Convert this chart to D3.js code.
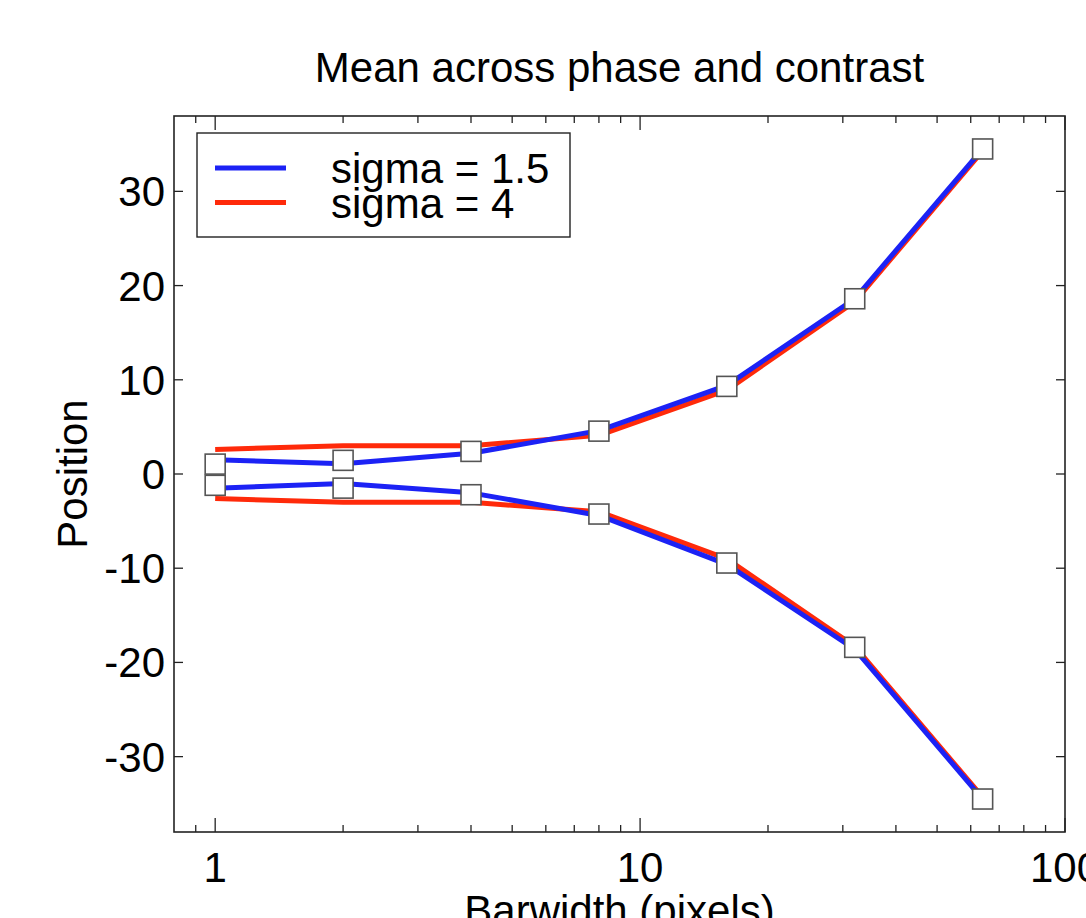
<!DOCTYPE html>
<html>
<head>
<meta charset="utf-8">
<script src="https://cdn.jsdelivr.net/npm/d3@7"></script>
<style>
  body { margin: 0; background: #fff; }
  svg { display: block; font-family: "Liberation Sans", Arial, sans-serif; }
</style>
</head>
<body>
<div id="chart"></div>
<script>
// values
var barwidth = [1, 2, 4, 8, 16, 32, 64];
var sigma15Up = [1.5, 1.1, 2.2, 4.6, 9.4, 18.6, 34.5];
var sigma15Down = [-1.5, -1.0, -2.0, -4.4, -9.6, -18.6, -34.5];
var sigma4Up = [2.6, 3.0, 3.0, 4.1, 8.9, 18.3, 34.3];
var sigma4Down = [-2.6, -3.0, -3.0, -4.0, -9.0, -18.3, -34.3];
var markerUp = [1.05, 1.45, 2.4, 4.55, 9.3, 18.6, 34.5];
var markerDown = [-1.2, -1.5, -2.2, -4.25, -9.45, -18.4, -34.5];

var xMajor = [1, 10, 100];
var xMinor = [0.9, 2, 3, 4, 5, 6, 7, 8, 9, 20, 30, 40, 50, 60, 70, 80, 90];
var yTicks = [-30, -20, -10, 0, 10, 20, 30];
var legendNames = ["sigma = 1.5", "sigma = 4"];
var colors = ["#1c22f5", "#ff2a0a"];

var margin = { top: 116, right: 21, bottom: 86, left: 174 },
    W = 1086, H = 918,
    width = W - margin.left - margin.right,
    height = H - margin.top - margin.bottom;

var svg = d3.select("#chart")
    .append("svg")
    .attr("width", W)
    .attr("height", H);

var g = svg.append("g")
    .attr("transform", "translate(" + margin.left + "," + margin.top + ")");

var x = d3.scaleLog().domain([0.8, 100]).range([0, width]);
var y = d3.scaleLinear().domain([-38, 38]).range([height, 0]);

var fontSize = 42;

// frame
g.append("rect")
    .attr("width", width)
    .attr("height", height)
    .attr("fill", "none")
    .attr("stroke", "#222")
    .attr("stroke-width", 1.6);

// ticks, all pointing inward
function xTicks(sel, top) {
    var all = xMinor.concat(xMajor);
    sel.selectAll(null)
        .data(all)
        .enter()
        .append("line")
        .attr("x1", function (d) { return x(d) })
        .attr("x2", function (d) { return x(d) })
        .attr("y1", top ? 0 : height)
        .attr("y2", function (d) {
            var len = xMajor.indexOf(d) >= 0 ? 14 : 7;
            return top ? len : height - len
        })
        .attr("stroke", "#222")
        .attr("stroke-width", 1.3);
}
xTicks(g, false);
xTicks(g, true);

g.selectAll(".ytl")
    .data(yTicks)
    .enter()
    .append("line")
    .attr("x1", 0).attr("x2", 9)
    .attr("y1", function (d) { return y(d) })
    .attr("y2", function (d) { return y(d) })
    .attr("stroke", "#222")
    .attr("stroke-width", 1.3);

g.selectAll(".ytr")
    .data(yTicks)
    .enter()
    .append("line")
    .attr("x1", width - 9).attr("x2", width)
    .attr("y1", function (d) { return y(d) })
    .attr("y2", function (d) { return y(d) })
    .attr("stroke", "#222")
    .attr("stroke-width", 1.3);

// tick labels
g.selectAll(".xlab")
    .data(xMajor)
    .enter()
    .append("text")
    .attr("x", function (d) { return x(d) })
    .attr("y", height + 50)
    .attr("text-anchor", "middle")
    .attr("font-size", fontSize)
    .text(function (d) { return d });

g.selectAll(".ylab")
    .data(yTicks)
    .enter()
    .append("text")
    .attr("x", -9)
    .attr("y", function (d) { return y(d) + 15 })
    .attr("text-anchor", "end")
    .attr("font-size", fontSize)
    .text(function (d) { return d });

// axis titles
g.append("text")
    .attr("x", width / 2)
    .attr("y", height + 93)
    .attr("text-anchor", "middle")
    .attr("font-size", fontSize)
    .text("Barwidth (pixels)");

g.append("text")
    .attr("transform", "translate(-87," + (height / 2) + ") rotate(-90)")
    .attr("text-anchor", "middle")
    .attr("font-size", fontSize)
    .text("Position");

svg.append("text")
    .attr("x", margin.left + width / 2)
    .attr("y", 82)
    .attr("text-anchor", "middle")
    .attr("font-size", fontSize)
    .text("Mean across phase and contrast");

// lines
var line = d3.line()
    .x(function (d) { return x(d[0]) })
    .y(function (d) { return y(d[1]) });

function pairs(vals) { return barwidth.map(function (b, i) { return [b, vals[i]] }) }

var series = [
    { vals: sigma4Up, c: colors[1] },
    { vals: sigma4Down, c: colors[1] },
    { vals: sigma15Up, c: colors[0] },
    { vals: sigma15Down, c: colors[0] }
];

g.selectAll(".series")
    .data(series)
    .enter()
    .append("path")
    .attr("d", function (d) { return line(pairs(d.vals)) })
    .attr("fill", "none")
    .attr("stroke", function (d) { return d.c })
    .attr("stroke-width", 5)
    .attr("stroke-linejoin", "round");

// square markers
var ms = 20;
var markers = pairs(markerUp).concat(pairs(markerDown));
g.selectAll(".mk")
    .data(markers)
    .enter()
    .append("rect")
    .attr("x", function (d) { return x(d[0]) - ms / 2 })
    .attr("y", function (d) { return y(d[1]) - ms / 2 })
    .attr("width", ms)
    .attr("height", ms)
    .attr("fill", "#fff")
    .attr("stroke", "#555")
    .attr("stroke-width", 1.6);

// legend
var lg = svg.append("g").attr("transform", "translate(197,133)");
lg.append("rect")
    .attr("width", 373)
    .attr("height", 104)
    .attr("fill", "#fff")
    .attr("stroke", "#222")
    .attr("stroke-width", 1.4);

legendNames.forEach(function (name, i) {
    lg.append("line")
        .attr("x1", 18).attr("x2", 89)
        .attr("y1", 35 + i * 34.5).attr("y2", 35 + i * 34.5)
        .attr("stroke", colors[i])
        .attr("stroke-width", 5);
    lg.append("text")
        .attr("x", 134)
        .attr("y", 50 + i * 35)
        .attr("font-size", fontSize)
        .text(name);
});
</script>
</body>
</html>
